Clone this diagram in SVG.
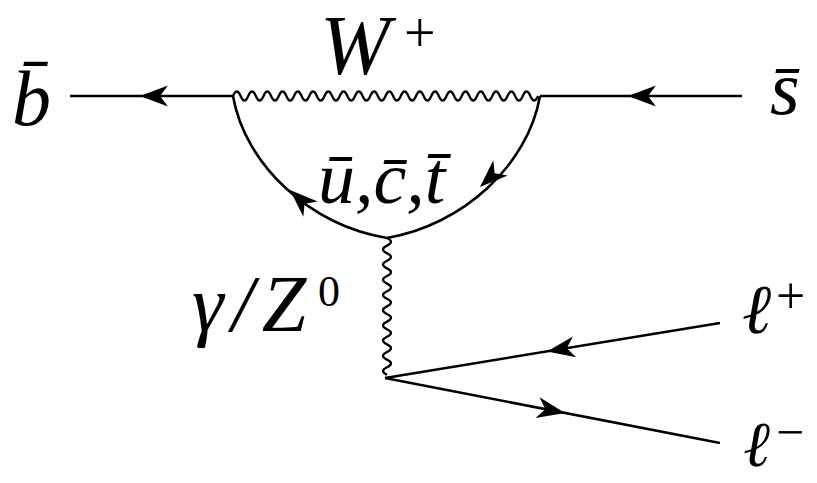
<svg xmlns="http://www.w3.org/2000/svg" width="817" height="483" viewBox="0 0 817 483">
<style>
.f{fill:none;stroke:#000;stroke-width:2.6}
.w{fill:none;stroke:#000;stroke-width:2.3}
.t{font-family:"Liberation Serif","Times New Roman",serif;font-style:italic;fill:#000}
.r{font-style:normal}
</style>
<defs>
<path id="ah" d="M0,0 L-28,-10.5 L-20,0 L-28,10.5 Z" fill="#000"/>
</defs>
<rect width="817" height="483" fill="#fff"/>
<g id="connectors">
<line class="f" x1="70" y1="96" x2="233" y2="96"/>
<line class="f" x1="540" y1="96" x2="742" y2="96"/>
<path class="w" d="M233,96 q3.8125,-9 7.625,0 t7.625,0 t7.625,0 t7.625,0 t7.625,0 t7.625,0 t7.625,0 t7.625,0 t7.625,0 t7.625,0 t7.625,0 t7.625,0 t7.625,0 t7.625,0 t7.625,0 t7.625,0 t7.625,0 t7.625,0 t7.625,0 t7.625,0 t7.625,0 t7.625,0 t7.625,0 t7.625,0 t7.625,0 t7.625,0 t7.625,0 t7.625,0 t7.625,0 t7.625,0 t7.625,0 t7.625,0 t7.625,0 t7.625,0 t7.625,0 t7.625,0 t7.625,0 t7.625,0 t7.625,0 t7.625,0"/>
<path class="f" d="M233,96 C245,165 310,225 387,238"/>
<path class="f" d="M540,96 C528,165 463,225 387,238"/>
<path class="w" d="M387,238 q8,3.8 0,7.6 t0,7.6 t0,7.6 t0,7.6 t0,7.6 t0,7.6 t0,7.6 t0,7.6 t0,7.6 t0,7.6 t0,7.6 t0,7.6 t0,7.6 t0,7.6 t0,7.6 t0,7.6 t0,7.6 t0,7.6"/>
<line class="f" x1="385" y1="378" x2="720" y2="323"/>
<line class="f" x1="385" y1="378" x2="720" y2="443"/>
<use href="#ah" transform="translate(140,96) rotate(180)"/>
<use href="#ah" transform="translate(628,96) rotate(180)"/>
<use href="#ah" transform="translate(290,190) rotate(223)"/>
<use href="#ah" transform="translate(480,187) rotate(137)"/>
<use href="#ah" transform="translate(547,351.5) rotate(170.7)"/>
<use href="#ah" transform="translate(565,413) rotate(11)"/>
</g>
<g id="b"><text class="t" x="12" y="125" font-size="78">b̄</text></g>
<g id="s"><text class="t" x="770" y="114" font-size="76">s̄</text></g>
<g id="W"><text class="t" x="320" y="74" font-size="84">W</text><text class="t r" x="404" y="52" font-size="56">+</text></g>
<g id="quarks"><text class="t" x="318" y="203" font-size="74">ū,c̄,t̄</text></g>
<g id="gammaZ"><text class="t" x="192" y="331" font-size="80" letter-spacing="8">γ/Z</text><text class="t r" x="318" y="306" font-size="44">0</text></g>
<g id="lplus"><text class="t" x="742" y="333" font-size="70">ℓ</text><text class="t r" x="776" y="313" font-size="52">+</text></g>
<g id="lminus"><text class="t" x="743" y="466" font-size="64">ℓ</text><text class="t r" x="776" y="449" font-size="50">−</text></g>
</svg>
